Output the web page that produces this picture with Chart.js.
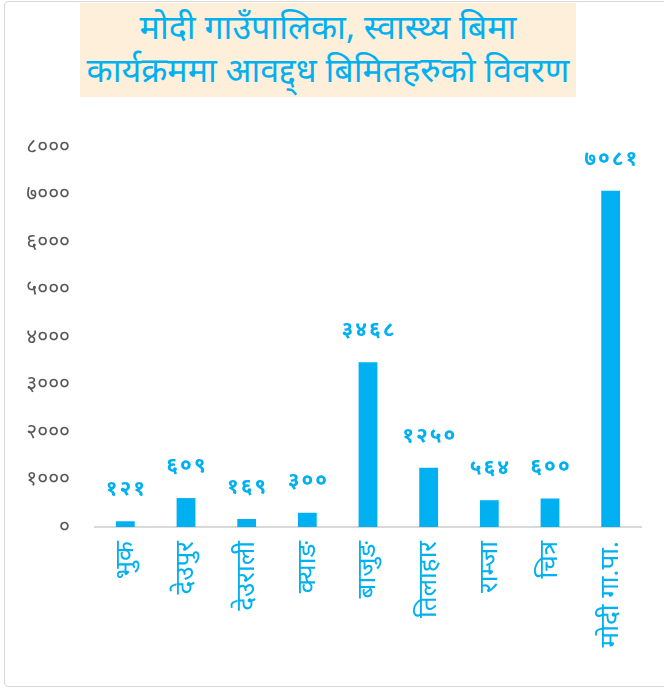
<!DOCTYPE html>
<html>
<head>
<meta charset="utf-8">
<script src="https://cdn.jsdelivr.net/npm/chart.js@4.4.0/dist/chart.umd.min.js"></script>
<style>
  html, body { margin: 0; padding: 0; background: #fff; }
  #wrap { position: relative; width: 664px; height: 692px; overflow: hidden; }
  #frame { position: absolute; left: 4px; top: 1px; width: 700px; height: 686px; border: 1px solid #d9d9d9; border-radius: 4px; box-sizing: border-box; }
  #title { position: absolute; left: 80px; top: 3px; width: 496px; height: 94px; background: #fdefd9; color: #00b0f0;
           font-family: 'Noto Sans', 'Noto Sans Devanagari', sans-serif; font-size: 34px; line-height: 43px; text-align: center; padding-top: 2px; box-sizing: border-box; white-space: nowrap; }
  canvas { position: absolute; left: 0; top: 0; }
</style>
</head>
<body>
<div id="wrap">
  <div id="frame"></div>
  <div id="title">मोदी गाउँपालिका, स्वास्थ्य बिमा<br>कार्यक्रममा आवद्द्ध बिमितहरुको विवरण</div>
  <canvas id="c" width="664" height="692"></canvas>
</div>
<script>
const categories = ['भुक', 'देउपुर', 'देउराली', 'क्याङ', 'बाजुङ', 'तिलाहार', 'राम्जा', 'चित्र', 'मोदी गा.पा.'];
const insured = [121, 609, 169, 300, 3468, 1250, 564, 600, 7081];
const yTicks = [0, 1000, 2000, 3000, 4000, 5000, 6000, 7000, 8000];

const devDigits = ['०','१','२','३','४','५','६','७','८','९'];
function toDev(n) { return String(n).replace(/[0-9]/g, d => devDigits[+d]); }

const BLUE = '#00b0f0';
const FONT = "'Noto Sans', 'Noto Sans Devanagari', sans-serif";

const valueLabels = {
  id: 'valueLabels',
  afterDatasetsDraw(chart) {
    const ctx = chart.ctx;
    const meta = chart.getDatasetMeta(0);
    ctx.save();
    ctx.fillStyle = BLUE;
    ctx.font = 'bold 21px ' + FONT;
    ctx.textAlign = 'center';
    ctx.textBaseline = 'alphabetic';
    if ('letterSpacing' in ctx) ctx.letterSpacing = '2px';
    meta.data.forEach((bar, i) => {
      ctx.fillText(toDev(insured[i]), bar.x + 1, bar.y - 26);
    });
    ctx.restore();
  }
};

new Chart(document.getElementById('c'), {
  type: 'bar',
  data: {
    labels: categories,
    datasets: [{
      data: insured,
      backgroundColor: BLUE,
      borderWidth: 0,
      barPercentage: 0.31,
      categoryPercentage: 1
    }]
  },
  options: {
    responsive: false,
    animation: false,
    layout: { padding: { top: 147, right: 23, bottom: 5, left: 0 } },
    plugins: { legend: { display: false }, tooltip: { enabled: false }, title: { display: false } },
    scales: {
      x: {
        grid: { display: false, drawTicks: false },
        border: { display: true, color: '#d9d9d9', width: 2 },
        ticks: { color: BLUE, font: { family: FONT, size: 26 }, minRotation: 90, maxRotation: 90, padding: 14, autoSkip: false },
        afterFit(scale) { scale.height = 160; }
      },
      y: {
        min: 0, max: 8000,
        afterBuildTicks(scale) { scale.ticks = yTicks.map(v => ({ value: v })); },
        grid: { display: false, drawTicks: false },
        border: { display: false },
        ticks: { color: '#595959', font: { family: FONT, size: 21 }, padding: 25, callback: v => toDev(v) },
        afterFit(scale) { scale.width = 95; }
      }
    }
  },
  plugins: [valueLabels]
});
</script>
</body>
</html>
